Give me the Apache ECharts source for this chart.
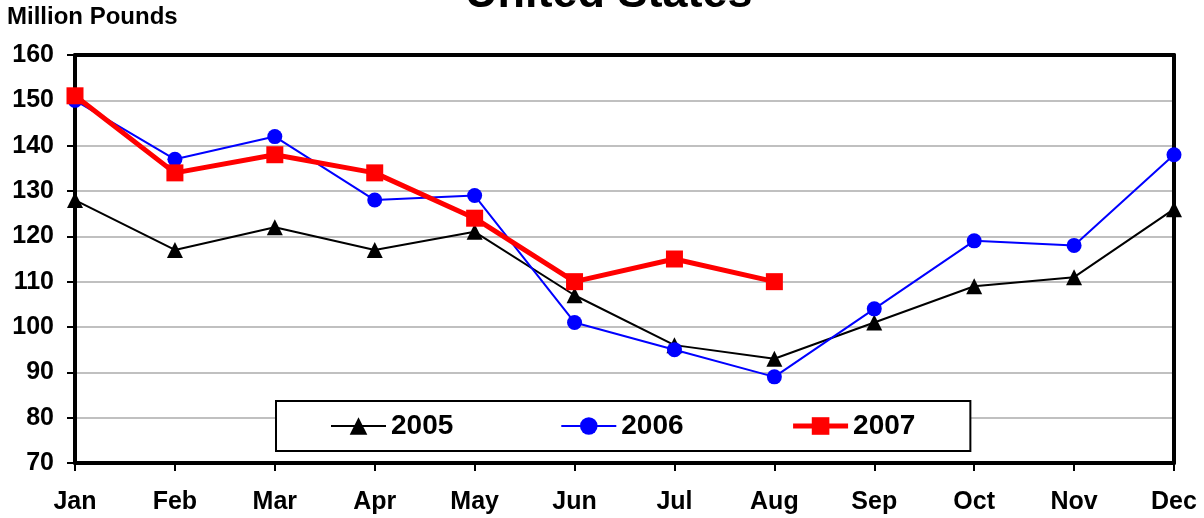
<!DOCTYPE html>
<html>
<head>
<meta charset="utf-8">
<script src="https://cdn.jsdelivr.net/npm/echarts@6/dist/echarts.min.js"></script>
<style>html,body{margin:0;padding:0;background:#fff;}#c{width:1204px;height:518px;}</style>
</head>
<body>
<div id="c"></div>
<script>
const months = ['Jan','Feb','Mar','Apr','May','Jun','Jul','Aug','Sep','Oct','Nov','Dec'];
const yTicks = [70, 80, 90, 100, 110, 120, 130, 140, 150, 160];
const s2005 = [128, 117, 122, 117, 121, 107, 96, 93, 101, 109, 111, 126];
const s2006 = [150, 137, 142, 128, 129, 101, 95, 89, 104, 119, 118, 138];
const s2007 = [151, 134, 138, 134, 124, 110, 115, 110];

const FONT = '"Liberation Sans", Arial, sans-serif';
const chart = echarts.init(document.getElementById('c'), null, {renderer: 'canvas'});
chart.setOption({
  animation: false,
  backgroundColor: '#fff',
  title: [
    {text: 'United States', left: 465, top: -28, padding: 0,
     textStyle: {fontFamily: FONT, fontWeight: 'bold', fontSize: 45, color: '#000'}},
    {text: 'Million Pounds', left: 7, top: 5, padding: 0,
     textStyle: {fontFamily: FONT, fontWeight: 'bold', fontSize: 24, color: '#000'}}
  ],
  legend: {
    left: 276, top: 401, z: 10,
    padding: [11, 55, 11, 54],
    itemGap: 107,
    itemWidth: 55, itemHeight: 22,
    backgroundColor: '#fff',
    borderColor: '#000', borderWidth: 2,
    textStyle: {fontFamily: FONT, fontWeight: 'bold', fontSize: 28, color: '#000'},
    data: [
      {name: '2005', lineStyle: {width: 2}},
      {name: '2006', lineStyle: {width: 2}},
      {name: '2007', lineStyle: {width: 5}}
    ]
  },
  grid: {left: 75, right: 30, top: 55, bottom: 55, show: false},
  xAxis: [{
    type: 'category', data: months, boundaryGap: false,
    axisLine: {lineStyle: {color: '#000', width: 4}},
    axisTick: {show: true, length: 8, lineStyle: {color: '#000', width: 2}},
    axisLabel: {margin: 27, fontFamily: FONT, fontWeight: 'bold', fontSize: 25, color: '#000'},
    splitLine: {show: false}
  }, {
    type: 'category', data: months, boundaryGap: false, position: 'top',
    axisLine: {show: true, lineStyle: {color: '#000', width: 4}},
    axisTick: {show: false}, axisLabel: {show: false}, splitLine: {show: false}
  }],
  yAxis: [{
    type: 'value', min: yTicks[0], max: yTicks[yTicks.length - 1], interval: 10,
    axisLine: {show: true, lineStyle: {color: '#000', width: 4}},
    axisTick: {show: true, length: 8, lineStyle: {color: '#000', width: 2}},
    axisLabel: {margin: 21, fontFamily: FONT, fontWeight: 'bold', fontSize: 25, color: '#000'},
    splitLine: {show: true, lineStyle: {color: '#c0c0c0', width: 2}}
  }, {
    type: 'value', min: yTicks[0], max: yTicks[yTicks.length - 1], interval: 10, position: 'right',
    axisLine: {show: true, lineStyle: {color: '#000', width: 4}},
    axisTick: {show: false}, axisLabel: {show: false}, splitLine: {show: false}
  }],
  series: [
    {name: '2005', type: 'line', data: s2005, symbol: 'triangle', symbolSize: 16,
     itemStyle: {color: '#000'}, lineStyle: {color: '#000', width: 2}, z: 3},
    {name: '2006', type: 'line', data: s2006, symbol: 'circle', symbolSize: 15,
     itemStyle: {color: '#0000ff'}, lineStyle: {color: '#0000ff', width: 2}, z: 4},
    {name: '2007', type: 'line', data: s2007, symbol: 'rect', symbolSize: 17,
     itemStyle: {color: '#ff0000'}, lineStyle: {color: '#ff0000', width: 5}, z: 5}
  ]
});
</script>
</body>
</html>
